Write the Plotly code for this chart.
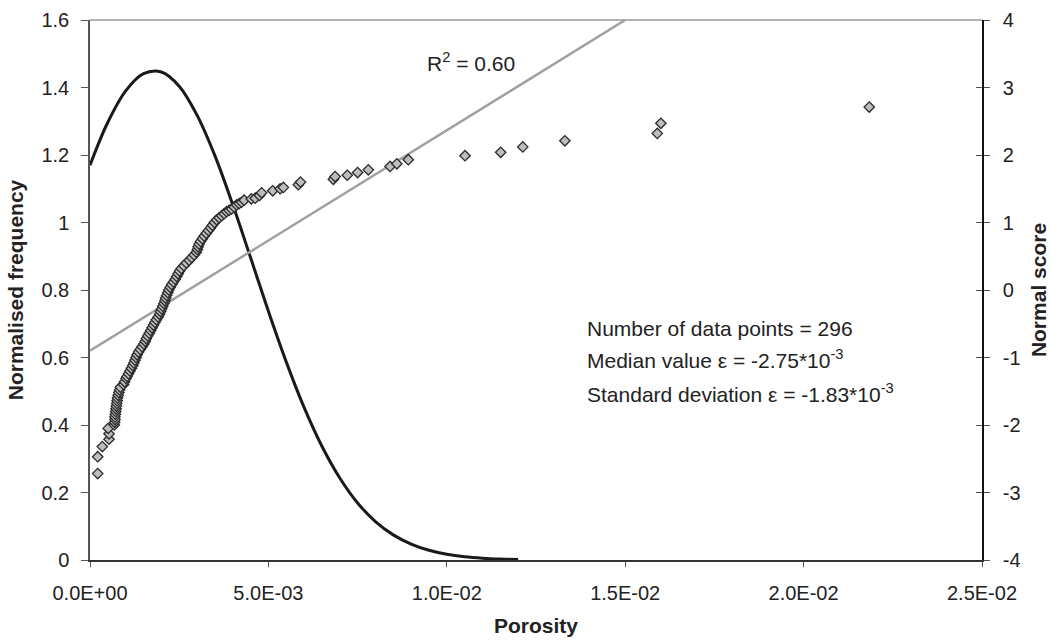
import plotly.graph_objects as go

# ---------------- data ----------------
por_tickvals = [0.0, 0.005, 0.01, 0.015, 0.02, 0.025]
por_ticktext = ["0.0E+00", "5.0E-03", "1.0E-02", "1.5E-02", "2.0E-02", "2.5E-02"]
freq_tickvals = [0.0, 0.2, 0.4, 0.6, 0.8, 1.0, 1.2, 1.4, 1.6]
freq_ticktext = ["0", "0.2", "0.4", "0.6", "0.8", "1", "1.2", "1.4", "1.6"]
score_tickvals = [-4, -3, -2, -1, 0, 1, 2, 3, 4]
score_ticktext = ["-4", "-3", "-2", "-1", "0", "1", "2", "3", "4"]

# normal distribution curve (normalised frequency, left axis)
curve_por = [0.0, 0.0005, 0.001, 0.0015, 0.002, 0.0025, 0.003, 0.0035, 0.004,
             0.0045, 0.005, 0.0055, 0.006, 0.0065, 0.007, 0.0075, 0.008,
             0.0085, 0.009, 0.0095, 0.01, 0.0105, 0.011, 0.0115, 0.012]
curve_freq = [1.170, 1.297, 1.390, 1.441, 1.446, 1.404, 1.318, 1.198, 1.053,
              0.896, 0.737, 0.587, 0.452, 0.337, 0.243, 0.169, 0.114,
              0.0745, 0.0471, 0.0288, 0.0170, 0.0097, 0.0054, 0.0029, 0.0015]

# linear trend of normal score vs porosity (right axis)
trend_por = [0.0, 0.015]
trend_score = [-0.9, 4.0]

# measured points: porosity vs normal score (right axis)
sc_por = [
    0.000216, 0.000216, 0.000345, 0.000533, 0.000533, 0.00051,
    0.00068, 0.00069, 0.00070, 0.00070, 0.00071, 0.00072, 0.00073, 0.00074,
    0.00075, 0.00076, 0.00077, 0.00079, 0.00081, 0.00083, 0.00085,
    0.00094, 0.00097, 0.00101, 0.00104, 0.00108, 0.00112, 0.00116, 0.00120,
    0.00123, 0.00126, 0.00129, 0.00132, 0.00136, 0.00141, 0.00146, 0.00151,
    0.00155, 0.00158, 0.00162, 0.00166, 0.00170, 0.00174, 0.00178, 0.00182,
    0.00186, 0.00191, 0.00195, 0.00198, 0.00201, 0.00204, 0.00207, 0.00210,
    0.00212, 0.00215, 0.00218, 0.00221, 0.00225, 0.00229, 0.00234, 0.00239,
    0.00243, 0.00247, 0.00251, 0.00256, 0.00263, 0.00270, 0.00278, 0.00285,
    0.00292, 0.00298, 0.00301, 0.00303, 0.00306, 0.00310, 0.00315, 0.00320,
    0.00326, 0.00332, 0.00338, 0.00343, 0.00349, 0.00355, 0.00362, 0.00369,
    0.00376, 0.00383, 0.00390, 0.00397, 0.00404, 0.00411, 0.00418, 0.00425,
    0.00432,
    0.00452, 0.00463, 0.00475, 0.00481, 0.00512, 0.00533, 0.00542, 0.00584,
    0.00590, 0.00682, 0.00687, 0.00721, 0.00750, 0.00780, 0.00841, 0.00860,
    0.00892, 0.01051, 0.01151, 0.01213, 0.01331, 0.01590, 0.01600, 0.02184,
]
sc_score = [
    -2.72, -2.47, -2.32, -2.21, -2.13, -2.05,
    -2.00, -1.96, -1.92, -1.88, -1.84, -1.80, -1.76, -1.72,
    -1.68, -1.64, -1.60, -1.56, -1.52, -1.48, -1.44,
    -1.40, -1.36, -1.31, -1.28, -1.24, -1.20, -1.16, -1.12,
    -1.08, -1.04, -1.00, -0.96, -0.92, -0.88, -0.84, -0.80,
    -0.76, -0.72, -0.68, -0.64, -0.60, -0.56, -0.52, -0.48,
    -0.44, -0.40, -0.36, -0.32, -0.28, -0.24, -0.20, -0.16,
    -0.12, -0.08, -0.04, 0.00, 0.04, 0.08, 0.12, 0.16,
    0.20, 0.24, 0.28, 0.32, 0.36, 0.40, 0.44, 0.48,
    0.52, 0.56, 0.60, 0.64, 0.68, 0.72, 0.76, 0.80,
    0.84, 0.88, 0.92, 0.96, 1.00, 1.04, 1.07, 1.10,
    1.13, 1.16, 1.18, 1.20, 1.23, 1.26, 1.28, 1.30,
    1.33,
    1.35, 1.36, 1.40, 1.44, 1.47, 1.50, 1.52, 1.56,
    1.60, 1.64, 1.68, 1.70, 1.74, 1.78, 1.83, 1.87,
    1.93, 1.99, 2.04, 2.12, 2.21, 2.32, 2.47, 2.71,
]

FONT = "Liberation Sans, Arial, sans-serif"
TXT = "#222222"
TICK_SIZE = 20
TITLE_SIZE = 21

fig = go.Figure()

fig.add_trace(go.Scatter(
    x=curve_por, y=curve_freq, mode="lines", yaxis="y",
    line=dict(color="#1a1a1a", width=3, shape="spline"),
    showlegend=False, hoverinfo="skip"))

fig.add_trace(go.Scatter(
    x=trend_por, y=trend_score, mode="lines", yaxis="y2",
    line=dict(color="#A0A0A0", width=2.5),
    showlegend=False, hoverinfo="skip"))

fig.add_trace(go.Scatter(
    x=sc_por, y=sc_score, mode="markers", yaxis="y2",
    marker=dict(symbol="diamond", size=8, color="#BDBDBD",
                line=dict(color="#2a2a2a", width=1.3)),
    showlegend=False))

# invisible helper trace so the inner half of right-axis ticks is drawn
fig.add_trace(go.Scatter(
    x=[trend_por[0]], y=[trend_score[0]], mode="markers", yaxis="y3",
    marker=dict(opacity=0), showlegend=False, hoverinfo="skip"))

fig.update_layout(
    width=1051, height=643,
    margin=dict(l=90, r=69, t=20, b=83),
    paper_bgcolor="white", plot_bgcolor="white",
    font=dict(family=FONT, color=TXT, size=TICK_SIZE),
    xaxis=dict(
        range=[0, 0.025], tickvals=por_tickvals, ticktext=por_ticktext,
        ticks="outside", ticklen=5, tickcolor="#555", tickwidth=1.3,
        showline=True, linecolor="#333", linewidth=1.5,
        showgrid=False, zeroline=False, automargin=False,
        tickfont=dict(size=TICK_SIZE, family=FONT, color=TXT),
        ticklabelstandoff=9,
        title=dict(text="<b>Porosity</b>", font=dict(size=TITLE_SIZE, family=FONT, color=TXT),
                   standoff=16),
    ),
    yaxis=dict(
        range=[0, 1.6], tickvals=freq_tickvals, ticktext=freq_ticktext,
        ticks="outside", ticklen=7, tickcolor="#555", tickwidth=1.3,
        showline=True, linecolor="#555", linewidth=1.5,
        showgrid=False, zeroline=False, automargin=False,
        tickfont=dict(size=TICK_SIZE, family=FONT, color=TXT),
        ticklabelstandoff=8,
        title=dict(text="<b>Normalised frequency</b>",
                   font=dict(size=TITLE_SIZE, family=FONT, color=TXT), standoff=12),
    ),
    yaxis2=dict(
        overlaying="y", side="right",
        range=[-4, 4], tickvals=score_tickvals, ticktext=score_ticktext,
        ticks="outside", ticklen=6, tickcolor="#555", tickwidth=1.3,
        showline=True, linecolor="#111", linewidth=1.5,
        showgrid=False, zeroline=False, automargin=False,
        tickfont=dict(size=TICK_SIZE, family=FONT, color=TXT),
        ticklabelstandoff=9,
        title=dict(text="<b>Normal score</b>",
                   font=dict(size=TITLE_SIZE, family=FONT, color=TXT), standoff=12),
    ),
    yaxis3=dict(
        overlaying="y", side="right",
        range=[-4, 4], tickvals=score_tickvals,
        ticks="inside", ticklen=6, tickcolor="#555", tickwidth=1.3,
        showticklabels=False, showline=False,
        showgrid=False, zeroline=False, automargin=False,
    ),
    shapes=[dict(type="line", xref="paper", yref="paper", x0=0, x1=1, y0=1, y1=1,
                 line=dict(color="#999", width=1.5))],
)

ann_font = dict(size=21, family=FONT, color=TXT)
fig.add_annotation(x=0.01068, y=1.476, xref="x", yref="y",
                   text="R<sup>2</sup> = 0.60", showarrow=False,
                   xanchor="center", yanchor="middle", font=ann_font)
stats_lines = ["Number of data points = 296",
               "Median value \u03b5 = -2.75*10<sup>-3</sup>",
               "Standard deviation \u03b5 = -1.83*10<sup>-3</sup>"]
stats_y = [0.687, 0.596, 0.495]
for t, yy in zip(stats_lines, stats_y):
    fig.add_annotation(x=0.01387, y=yy, xref="x", yref="y", text=t,
                       showarrow=False, xanchor="left", yanchor="middle",
                       font=ann_font)

fig.write_html("out.html")
